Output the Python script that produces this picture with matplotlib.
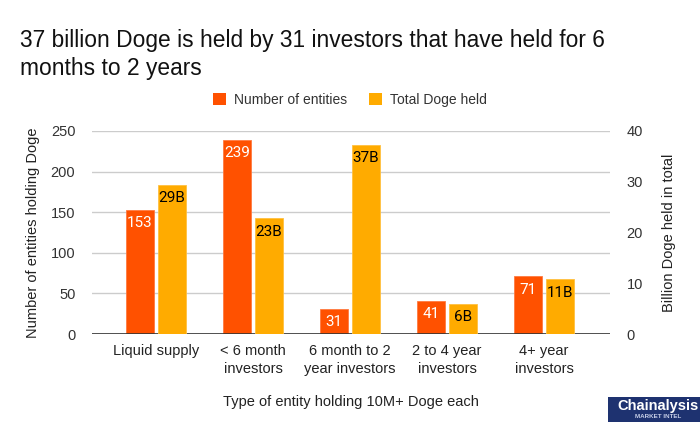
import numpy as np
import matplotlib.pyplot as plt
from matplotlib.patches import Rectangle

categories = ["Liquid supply", "< 6 month\ninvestors", "6 month to 2\nyear investors",
              "2 to 4 year\ninvestors", "4+ year\ninvestors"]
entities = [153, 239, 31, 41, 71]
doge_billion = [29.4, 22.8, 37.3, 6.0, 10.8]
doge_labels = ["29B", "23B", "37B", "6B", "11B"]

RED = '#ff5100'
YEL = '#ffab00'
plt.rcParams['font.family'] = ['Liberation Sans', 'DejaVu Sans']

def plot_chart():
    fig = plt.figure(figsize=(7, 4.22), dpi=100)
    ax = fig.add_axes([92/700, 1 - 334/422, 518/700, 203/422])
    ax2 = ax.twinx()

    x = np.arange(len(categories))
    w = 0.29
    off = 0.165
    b1 = ax.bar(x - off, entities, w, color=RED, edgecolor='#ff7a40', linewidth=0.6, zorder=3)
    b2 = ax2.bar(x + off, doge_billion, w, color=YEL, edgecolor='#ffc040', linewidth=0.6, zorder=3)

    ax.set_xlim(-0.66, 4.68)
    ax.set_ylim(0, 250)
    ax2.set_ylim(0, 40)
    ax.set_yticks([0, 50, 100, 150, 200, 250])
    ax2.set_yticks([0, 10, 20, 30, 40])
    ax.yaxis.grid(True, color='#cccccc', linewidth=1, zorder=0)
    ax.set_axisbelow(True)
    for a in (ax, ax2):
        for s in a.spines.values():
            s.set_visible(False)
        a.tick_params(length=0, labelsize=10.5, colors='#333333')
    ax.tick_params(axis='y', pad=12)
    ax2.tick_params(axis='y', pad=12)
    ax.axhline(0, color='#333333', linewidth=1.2, zorder=5)

    ax.set_xticks(x)
    ax.set_xticklabels(categories, fontsize=10.5, color='#222222', linespacing=1.35)
    ax.tick_params(axis='x', pad=7)

    for rect, v in zip(b1, entities):
        ax.text(rect.get_x() + rect.get_width()/2, v - 8, str(v), ha='center', va='top',
                color='white', fontsize=11, family='Roboto', zorder=6)
    for rect, v, lab in zip(b2, doge_billion, doge_labels):
        ax2.text(rect.get_x() + rect.get_width()/2, v - 1.3, lab, ha='center', va='top',
                 color='black', fontsize=11, family='Roboto', zorder=6)

    ax.set_ylabel("Number of entities holding Doge", fontsize=10.5, color='#222222', labelpad=8)
    ax2.set_ylabel("Billion Doge held in total", fontsize=10.5, color='#222222', labelpad=14)
    ax.set_xlabel("Type of entity holding 10M+ Doge each", fontsize=10.5, color='#222222', labelpad=14)

    fig.text(20/700, 1 - 29/422, "37 billion Doge is held by 31 investors that have held for 6\nmonths to 2 years",
             ha='left', va='top', fontsize=16.4, color='#111111', linespacing=1.25)

    # legend
    ax.bar(0, 0, color=RED, label="Number of entities")
    ax.bar(0, 0, color=YEL, label="Total Doge held")
    fig.legend(loc='center', bbox_to_anchor=(350/700, 1 - 100/422), ncol=2, frameon=False,
               fontsize=10, handlelength=0.9, handleheight=0.9, columnspacing=1.6, handletextpad=0.6,
               labelcolor='#333333')

    # logo box
    fig.patches.append(Rectangle((608/700, 0), 92/700, 25/422, transform=fig.transFigure,
                                 facecolor='#1e3270', edgecolor='none'))
    fig.text(658/700, 1 - 406/422, "Chainalysis", ha='center', va='center',
             fontsize=10.5, color='white', fontweight='bold')
    fig.text(658/700, 1 - 417/422, "MARKET INTEL", ha='center', va='center',
             fontsize=4.5, color='#c8d0e8', fontweight='bold')

    fig.savefig('out.png', dpi=100)

if __name__ == '__main__':
    plot_chart()
